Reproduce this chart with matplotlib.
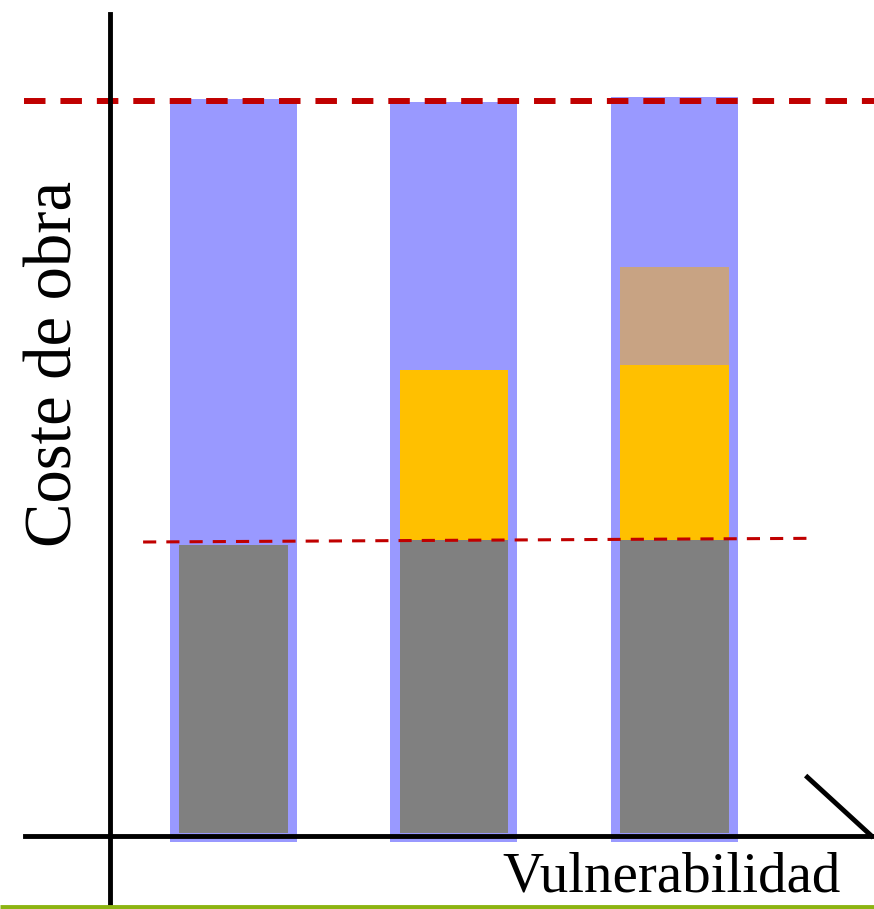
import matplotlib.pyplot as plt

# Esquema: coste de obra frente a vulnerabilidad
posiciones = [1, 2, 3]
coste_total = [100.3, 99.9, 100.5]     # barra azul (envolvente)
coste_base = [39.6, 40.3, 40.3]        # parte gris
coste_refuerzo = [0.0, 23.1, 23.8]     # parte amarilla
coste_extra = [0.0, 0.0, 13.3]         # parte marron
nivel_max = 100.0
nivel_base = [40.0, 40.5]              # linea discontinua inferior (izq, der)
base_barra = -0.8

fig = plt.figure(figsize=(8.74, 9.09), dpi=100)
ax = fig.add_axes([0, 0, 1, 1])
ax.set_xlim(-0.059, 3.905)
ax.set_ylim(-9.93, 113.74)
ax.axis("off")

# barras azules de fondo
ax.bar(posiciones, [t - base_barra for t in coste_total], bottom=base_barra,
       width=0.576, color="#9999ff", zorder=1)

# barras interiores apiladas
ax.bar(posiciones, [b - 0.4 for b in coste_base], bottom=0.4, width=0.494,
       color="#808080", zorder=2)
bottom2 = coste_base
ax.bar(posiciones[1:], coste_refuerzo[1:], bottom=bottom2[1:], width=0.494,
       color="#ffc000", zorder=2)
bottom3 = [b + r for b, r in zip(coste_base, coste_refuerzo)]
ax.bar(posiciones[2:], coste_extra[2:], bottom=bottom3[2:], width=0.494,
       color="#c8a383", zorder=2)

# lineas de referencia
ax.plot([0.05, 3.905], [nivel_max, nivel_max], color="#c00000", lw=4.3,
        dashes=(3.6, 2.5), zorder=3)
ax.plot([0.59, 3.615], nivel_base, color="#c00000", lw=2.2,
        dashes=(4.3, 3.3), zorder=3)

# ejes dibujados
ax.plot([0.44, 0.44], [-9.93, 111.8], color="black", lw=3.5, zorder=4)
ax.plot([0.056, 3.905], [0, 0], color="black", lw=3.5, zorder=4)
ax.plot([3.603, 3.894], [8.0, 0], color="black", lw=3.5, zorder=4)

# linea verde inferior
ax.plot([-0.059, 3.905], [-9.6, -9.6], color="#8cb412", lw=3.5, zorder=4,
        solid_capstyle="butt")

ax.text(0.19, 64.2, "Coste de obra", rotation=90, ha="center", va="center",
        fontsize=48, family="Liberation Serif")
ax.text(3.755, -5.7, "Vulnerabilidad", ha="right", va="center",
        fontsize=41, family="Liberation Serif")

fig.savefig("out.png", dpi=100)
